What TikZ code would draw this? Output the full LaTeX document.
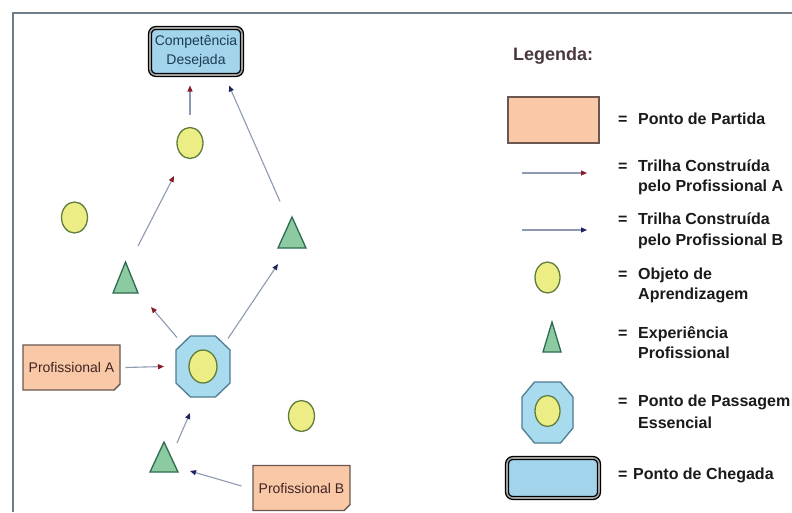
\documentclass[tikz,border=0pt]{standalone}
\usepackage{fontspec}
\setmainfont{Liberation Sans}
\usetikzlibrary{arrows.meta,shapes.geometric,shapes.misc,calc}
\definecolor{salmonfill}{HTML}{F9C8A6}
\definecolor{salmondraw}{HTML}{6A5850}
\definecolor{yelfill}{HTML}{EDED85}
\definecolor{yeldraw}{HTML}{5F7D3C}
\definecolor{trifill}{HTML}{8CCBA2}
\definecolor{tridraw}{HTML}{2D6B50}
\definecolor{octfill}{HTML}{A9DBEF}
\definecolor{octdraw}{HTML}{4D7D93}
\definecolor{goalfill}{HTML}{A2D5EC}
\definecolor{framecol}{HTML}{6F7D87}
\definecolor{linecol}{HTML}{8E9AB2}
\definecolor{tipA}{HTML}{8A1C28}
\definecolor{tipB}{HTML}{1E2660}
\definecolor{legtext}{HTML}{1A1A1A}
\definecolor{legtitle}{HTML}{4A3840}
\definecolor{goaltext}{HTML}{1E3A55}
\definecolor{startext}{HTML}{3E2424}
\newcommand{\drawocta}[3]{%
  \draw[octo] ($(#1.north west)+(#2,0)$) -- ($(#1.north east)+(-#2,0)$) -- ($(#1.north east)+(0,#3)$) -- ($(#1.south east)+(0,-#3)$) -- ($(#1.south east)+(-#2,0)$) -- ($(#1.south west)+(#2,0)$) -- ($(#1.south west)+(0,-#3)$) -- ($(#1.north west)+(0,#3)$) -- cycle;}
\newcommand{\drawtri}[1]{%
  \draw[tri] (#1.south west) -- (#1.south east) -- (#1.north) -- cycle;}
\begin{document}
\begin{tikzpicture}[x=1pt,y=-1pt,
  startbox/.style={chamfered rectangle, chamfered rectangle corners=south east,
    chamfered rectangle xsep=3pt, chamfered rectangle ysep=3pt,
    draw=salmondraw, fill=salmonfill, line width=1.4pt,
    minimum width=97pt, minimum height=45pt, inner sep=0pt,
    font=\fontsize{14}{16}\selectfont, text=startext},
  goalbox/.style={rectangle, rounded corners=6pt, draw=black, line width=1.3pt,
    double=gray!75, double distance=1.6pt, fill=goalfill,
    minimum width=92pt, minimum height=47pt, inner sep=0pt, align=center,
    font=\fontsize{14}{18.5}\selectfont, text=goaltext},
  lobj/.style={ellipse, draw=yeldraw, fill=yelfill, line width=1.3pt,
    minimum width=26pt, minimum height=31pt, inner sep=0pt},
  slot/.style={rectangle, inner sep=0pt, outer sep=0pt, draw=none},
  tri/.style={draw=tridraw, fill=trifill, line width=1.3pt, line join=miter},
  octo/.style={draw=octdraw, fill=octfill, line width=1.3pt},
  trailA/.style={draw=linecol, line width=1.1pt, -{Triangle[length=6pt,width=5pt,color=tipA]}},
  trailB/.style={draw=linecol, line width=1.1pt, -{Triangle[length=6pt,width=5pt,color=tipB]}},
  frameline/.style={draw=framecol, line width=2pt},
  legtxt/.style={anchor=base west, font=\fontsize{16}{20}\selectfont\bfseries, text=legtext, inner sep=0pt},
]
\useasboundingbox (0,0) rectangle (792,512);
\fill[white] (0,0) rectangle (792,512);
\draw[frameline] (792,12.5) -- (13,12.5) -- (13,512);

% diagram
\node[goalbox] (goal) at (196,51.5) {Competência\\Desejada};
\node[lobj] (c1) at (190,143) {};
\node[lobj] (c0) at (74.5,217.5) {};
\node[slot, minimum width=28pt, minimum height=31pt] (t2) at (292,232.5) {};
\drawtri{t2}
\node[slot, minimum width=25pt, minimum height=31pt] (t1) at (125.5,277.5) {};
\drawtri{t1}
\node[slot, minimum width=54pt, minimum height=61pt] (oct) at (203,366.5) {};
\drawocta{oct}{14.5}{14}
\node[lobj, minimum width=28pt, minimum height=33pt] (c2) at (203,366.5) {};
\node[startbox] (pa) at (71.5,367.5) {Profissional A};
\node[lobj] (c3) at (301.5,416) {};
\node[slot, minimum width=28pt, minimum height=30pt] (t3) at (164,457) {};
\drawtri{t3}
\node[startbox] (pb) at (301.5,488) {Profissional B};

\draw[trailA] ($(c1)+(0,-28)$) -- ($(goal)+(-6,34)$);
\draw[trailB] ($(t2)+(-12,-31)$) -- ($(goal)+(33,34)$);
\draw[trailA] ($(t1)+(12.5,-31.5)$) -- ($(c1)+(-16,33)$);
\draw[trailA] ($(oct)+(-26,-29)$) -- ($(t1)+(25.5,29.5)$);
\draw[trailB] ($(oct)+(25,-28)$) -- ($(t2)+(-14,31.5)$);
\draw[trailA] ($(pa)+(54,0)$) -- ($(oct)+(-39,0)$);
\draw[trailB] ($(t3)+(13,-14)$) -- ($(oct)+(-13,46.5)$);
\draw[trailB] ($(pb)+(-60,-2)$) -- ($(t3)+(26,14)$);

% legend
\node[anchor=base west, inner sep=0pt, font=\fontsize{18}{20}\selectfont\bfseries, text=legtitle] (ltitle) at (513,60) {Legenda:};
\node[startbox, minimum width=91pt, minimum height=46pt] (lstart) at (553.5,120) {};
\coordinate (la1) at (522,173); \coordinate (la2) at (587,173);
\draw[trailA] (la1) -- (la2);
\coordinate (lb1) at (522,230); \coordinate (lb2) at (587,230);
\draw[trailB] (lb1) -- (lb2);
\node[lobj, minimum width=25pt, minimum height=31pt] (lc) at (547.5,277.5) {};
\node[slot, minimum width=18pt, minimum height=30pt] (lt) at (552,337) {};
\drawtri{lt}
\node[slot, minimum width=51pt, minimum height=61pt] (loct) at (547.5,412.5) {};
\drawocta{loct}{12.5}{15}
\node[lobj, minimum width=25pt, minimum height=31pt] (lc2) at (547.5,411) {};
\node[goalbox, minimum width=92pt, minimum height=40pt] (lgoal) at (553,478) {};

\node[legtxt] (eq1) at (618,124) {=};
\node[legtxt] (tx1) at (638,124) {Ponto de Partida};
\node[legtxt] (eq2) at (618,171) {=};
\node[legtxt] (tx2a) at (638,171) {Trilha Construída};
\node[legtxt] (tx2b) at (638,191.5) {pelo Profissional A};
\node[legtxt] (eq3) at (618,224) {=};
\node[legtxt] (tx3a) at (638,224) {Trilha Construída};
\node[legtxt] (tx3b) at (638,245) {pelo Profissional B};
\node[legtxt] (eq4) at (618,279) {=};
\node[legtxt] (tx4a) at (638,279) {Objeto de};
\node[legtxt] (tx4b) at (638,299) {Aprendizagem};
\node[legtxt] (eq5) at (618,338) {=};
\node[legtxt] (tx5a) at (638,338) {Experiência};
\node[legtxt] (tx5b) at (638,358) {Profissional};
\node[legtxt] (eq6) at (618,406) {=};
\node[legtxt] (tx6a) at (638,406) {Ponto de Passagem};
\node[legtxt] (tx6b) at (638,428) {Essencial};
\node[legtxt] (eq7) at (618,479) {=};
\node[legtxt] (tx7) at (633,479) {Ponto de Chegada};
\end{tikzpicture}
\end{document}
